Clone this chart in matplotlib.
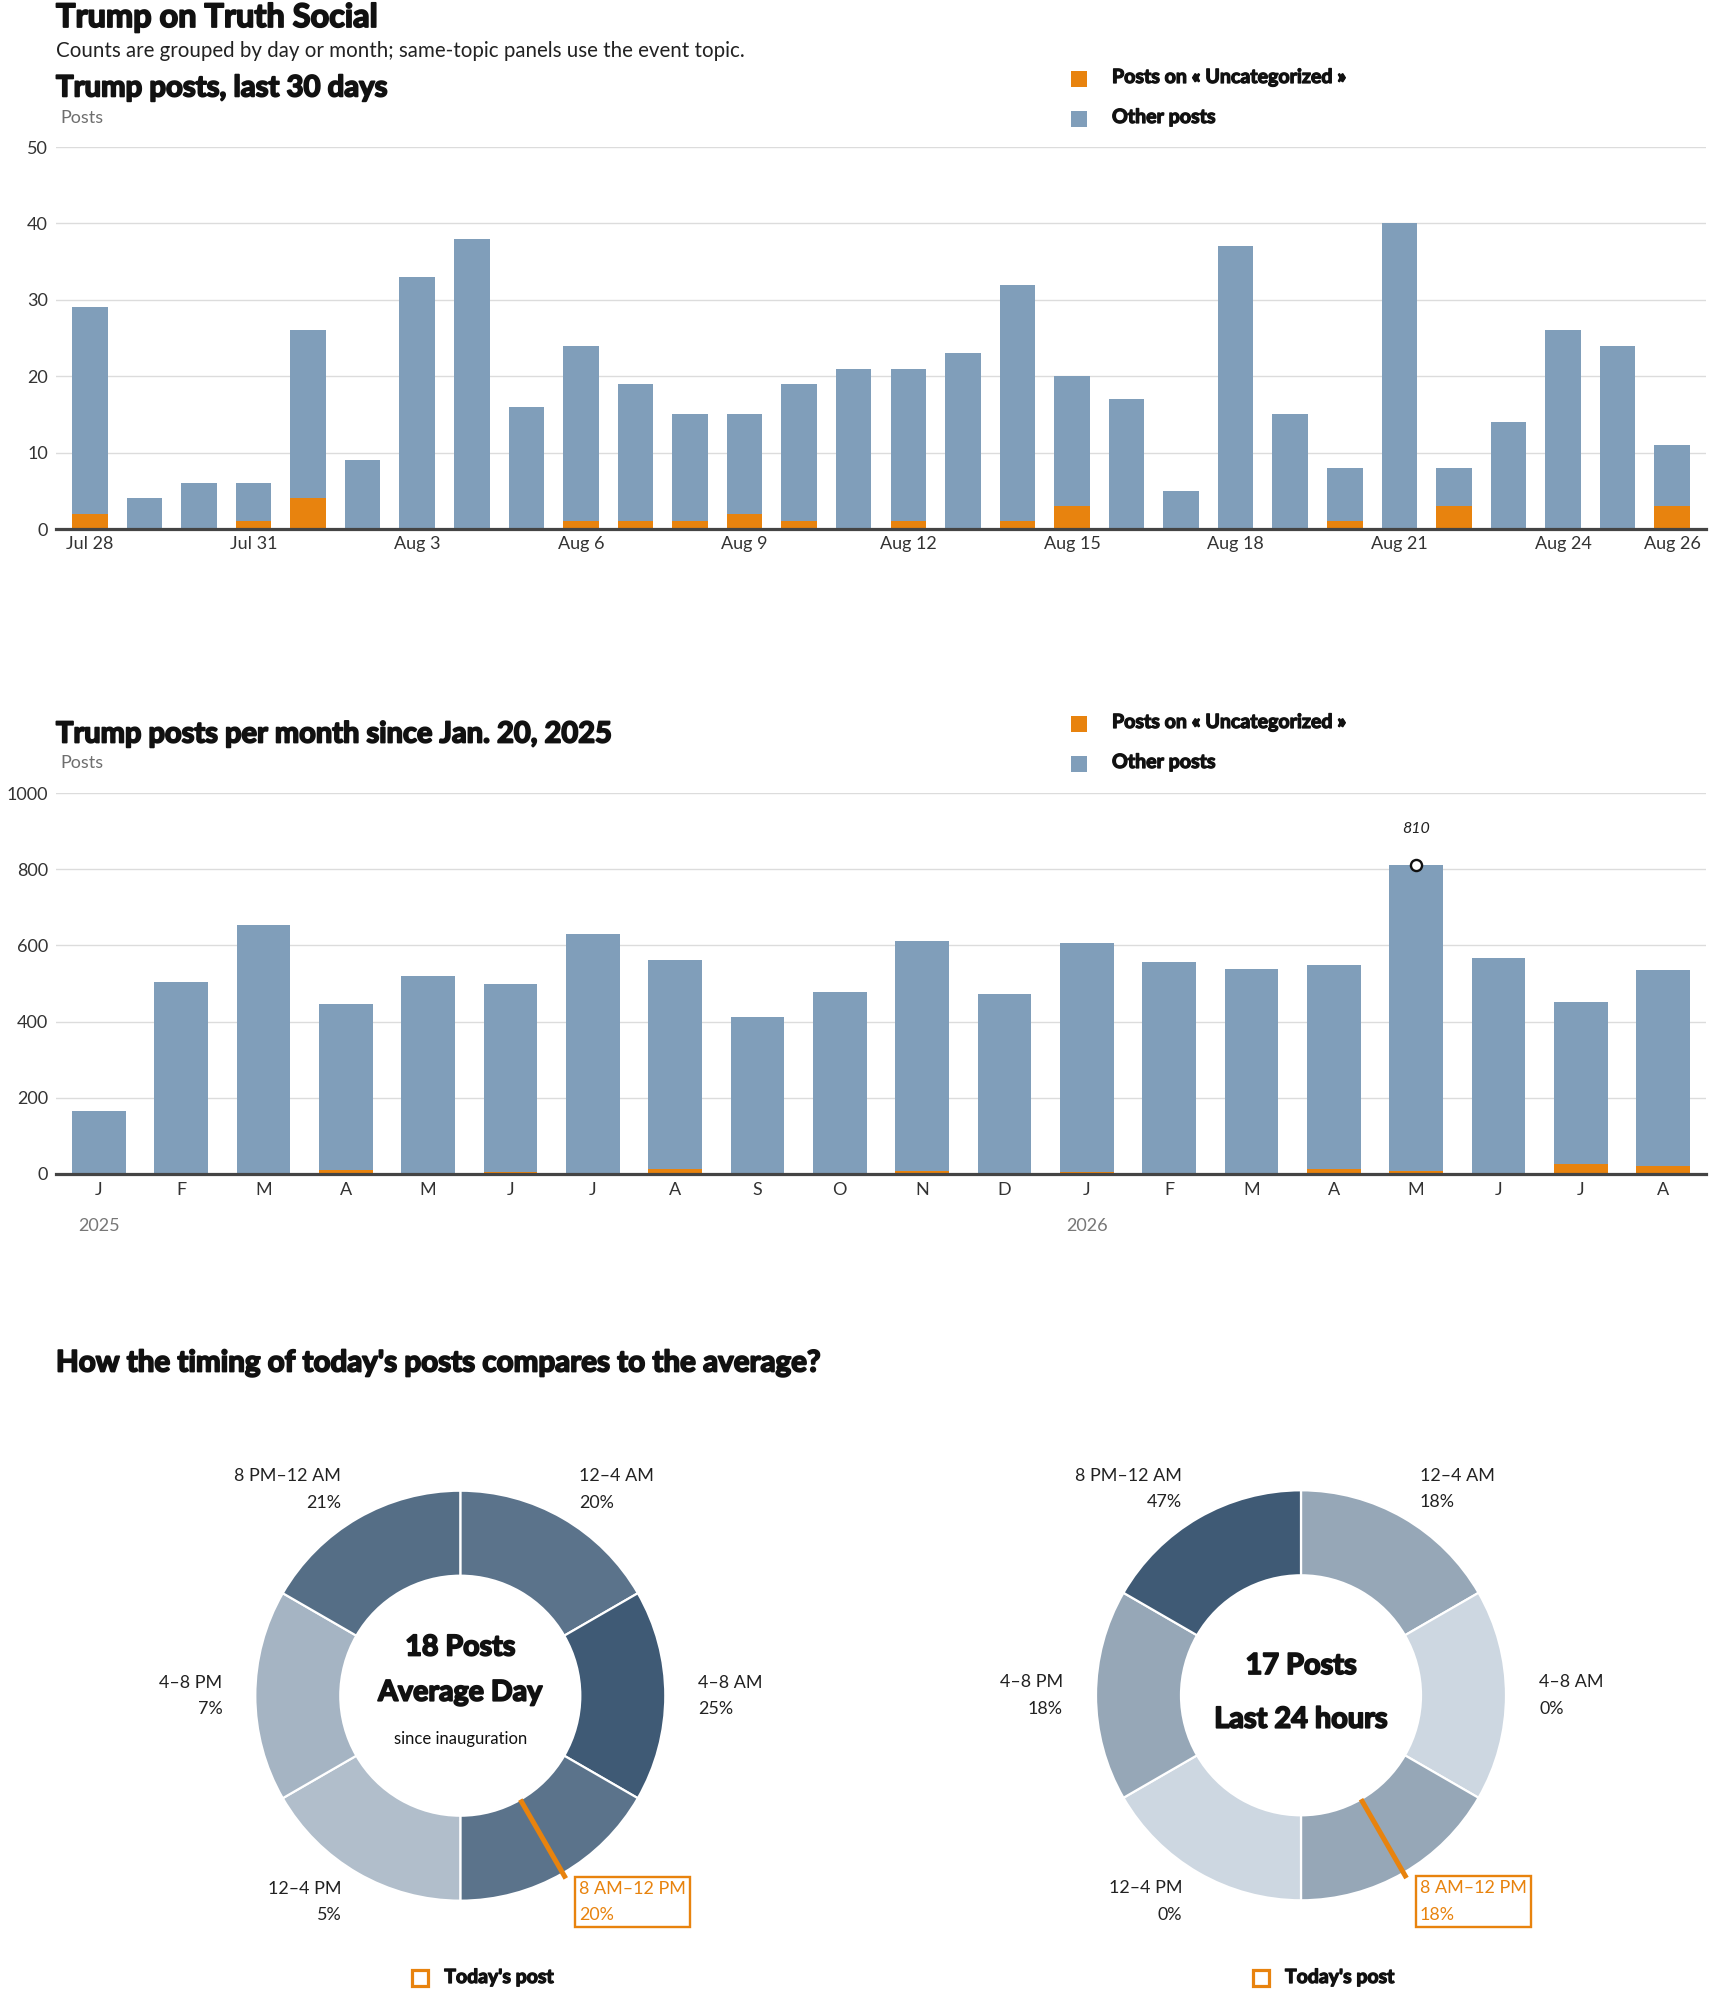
import matplotlib
matplotlib.use("Agg")
import matplotlib.pyplot as plt
from matplotlib import font_manager as fm
from matplotlib import patheffects as pe
from matplotlib.patches import Rectangle
from matplotlib.colors import LinearSegmentedColormap
import numpy as np

# ---------------- data ----------------
day_labels = ["Jul 28", "Jul 29", "Jul 30", "Jul 31", "Aug 1", "Aug 2", "Aug 3", "Aug 4",
              "Aug 5", "Aug 6", "Aug 7", "Aug 8", "Aug 9", "Aug 10", "Aug 11", "Aug 12",
              "Aug 13", "Aug 14", "Aug 15", "Aug 16", "Aug 17", "Aug 18", "Aug 19", "Aug 20",
              "Aug 21", "Aug 22", "Aug 23", "Aug 24", "Aug 25", "Aug 26"]
day_total = [29, 4, 6, 6, 26, 9, 33, 38, 16, 24, 19, 15, 15, 19, 21,
             21, 23, 32, 20, 17, 5, 37, 15, 8, 40, 8, 14, 26, 24, 11]
day_topic = [2, 0, 0, 1, 4, 0, 0, 0, 0, 1, 1, 1, 2, 1, 0,
             1, 0, 1, 3, 0, 0, 0, 0, 1, 0, 3, 0, 0, 0, 3]
day_ticks = ["Jul 28", "Jul 31", "Aug 3", "Aug 6", "Aug 9", "Aug 12",
             "Aug 15", "Aug 18", "Aug 21", "Aug 24", "Aug 26"]
day_yticks = [0, 10, 20, 30, 40, 50]

month_labels = ["J", "F", "M", "A", "M", "J", "J", "A", "S", "O",
                "N", "D", "J", "F", "M", "A", "M", "J", "J", "A"]
month_total = [165, 504, 654, 447, 520, 499, 630, 562, 412, 478,
               612, 473, 607, 556, 538, 549, 810, 567, 451, 536]
month_topic = [0, 3, 3, 10, 1, 4, 3, 13, 3, 0,
               7, 1, 5, 1, 1, 13, 7, 1, 26, 20]
year_idx = [0, 12]
year_labels = ["2025", "2026"]
month_yticks = [0, 200, 400, 600, 800, 1000]

time_bins = ["12–4 AM", "4–8 AM", "8 AM–12 PM", "12–4 PM", "4–8 PM", "8 PM–12 AM"]
bin_hours = [4, 4, 4, 4, 4, 4]
avg_pct = [20, 25, 20, 5, 7, 21]
last24_pct = [18, 0, 18, 0, 18, 47]
avg_posts = 18
last24_posts = 17
today_bin = "8 AM–12 PM"
today_post_hour = 10.0

topic_name = "Uncategorized"

# ---------------- style ----------------
ORANGE = "#E8830E"
BLUE = "#809EBA"
GRID = "#DCDCDC"
BASE = "#444444"
TXT = "#222222"
GRAY = "#6E6E6E"
INK = "#111111"

names = {f.name for f in fm.fontManager.ttflist}


def pick(*cands):
    for n in cands:
        if n in names:
            return n
    return "DejaVu Sans"


FONT = pick("Lato", "Roboto", "Open Sans", "Noto Sans", "Liberation Sans")
plt.rcParams["font.family"] = [FONT, "DejaVu Sans"]

# extra weight for the heavy display face
HEAVY_FX = [pe.withStroke(linewidth=1.3, foreground=INK)]
DEMI_FX = [pe.withStroke(linewidth=0.9, foreground=INK)]

W, H = 1710, 1993
fig = plt.figure(figsize=(W / 100, H / 100), dpi=100)
fig.patch.set_facecolor("white")


def ax_px(left, top, width, height):
    return fig.add_axes([left / W, 1 - (top + height) / H, width / W, height / H])


def style_bar_axes(ax):
    for s in ["left", "right", "top"]:
        ax.spines[s].set_visible(False)
    ax.spines["bottom"].set_color(BASE)
    ax.spines["bottom"].set_linewidth(2.3)
    ax.grid(axis="y", color=GRID, linewidth=1.0)
    ax.set_axisbelow(True)
    ax.tick_params(axis="both", length=0, labelsize=13, colors="#333333")
    ax.tick_params(axis="y", pad=5.8)


# ---------------- daily chart ----------------
ax1 = ax_px(56, 147, 1650, 382)
x1 = np.arange(len(day_total))
other1 = np.array(day_total) - np.array(day_topic)
ax1.bar(x1, day_topic, width=0.65, color=ORANGE, zorder=2)
ax1.bar(x1, other1, bottom=day_topic, width=0.65, color=BLUE, zorder=2)
ax1.set_xlim(-0.62, len(x1) - 1 + 0.62)
ax1.set_ylim(0, 50)
ax1.set_yticks(day_yticks)
ax1.set_xticks([day_labels.index(t) for t in day_ticks])
ax1.set_xticklabels(day_ticks)
style_bar_axes(ax1)
ax1.tick_params(axis="x", pad=5)

# ---------------- monthly chart ----------------
ax2 = ax_px(56, 793, 1650, 381)
x2 = np.arange(len(month_total))
other2 = np.array(month_total) - np.array(month_topic)
ax2.bar(x2, month_topic, width=0.65, color=ORANGE, zorder=2)
ax2.bar(x2, other2, bottom=month_topic, width=0.65, color=BLUE, zorder=2)
ax2.set_xlim(-0.52, len(x2) - 1 + 0.52)
ax2.set_ylim(0, 1000)
ax2.set_yticks(month_yticks)
ax2.set_xticks(x2)
ax2.set_xticklabels(month_labels)
style_bar_axes(ax2)
ax2.tick_params(axis="x", pad=5.5)
for i, lab in zip(year_idx, year_labels):
    ax2.text(i, -0.137, lab, transform=ax2.get_xaxis_transform(), ha="center",
             va="center", fontsize=13, color="#777777")
imax = int(np.argmax(month_total))
ax2.plot(imax, month_total[imax], "o", mfc="white", mec=INK, ms=8, mew=1.7, zorder=5)
ax2.annotate(str(month_total[imax]), xy=(imax, month_total[imax]), xytext=(0, 26),
             textcoords="offset points", ha="center", va="center", fontsize=11.5,
             fontstyle="italic", color=TXT)

# ---------------- donuts ----------------
cmap = LinearSegmentedColormap.from_list("slate", ["#CDD7E1", "#3F5A75"])
R = 205.0
HALF = 280.0


def donut(cx, cy, pcts, center_lines):
    ax = ax_px(cx - HALF, cy - HALF, 2 * HALF, 2 * HALF)
    mx = max(pcts)
    colors = [cmap(p / mx) for p in pcts]
    ax.pie(bin_hours, colors=colors, startangle=90, counterclock=False, radius=1.0,
           wedgeprops=dict(width=1 - 120 / R, edgecolor="white", linewidth=1.6))
    L = HALF / R
    ax.set_xlim(-L, L)
    ax.set_ylim(-L, L)
    ax.set_aspect("equal")
    ax.axis("off")
    total = float(sum(bin_hours))
    cum = np.cumsum(bin_hours)
    for lab, p, c, h in zip(time_bins, pcts, cum, bin_hours):
        mid = np.deg2rad((c - h / 2) / total * 360)
        r = 238 / R
        tx, ty = r * np.sin(mid), r * np.cos(mid)
        ha = "left" if tx > 0.01 else "right"
        hl = lab == today_bin
        kw = {}
        if hl:
            kw["bbox"] = dict(boxstyle="square,pad=0.22", fc="white", ec=ORANGE, lw=1.7)
        ax.text(tx, ty, f"{lab}\n{p}%", ha=ha, va="center", fontsize=12.9,
                linespacing=1.8, color=ORANGE if hl else TXT, zorder=6, clip_on=False, **kw)
    ang = np.deg2rad(today_post_hour / 24 * 360)
    r0, r1 = 120 / R, 211 / R
    ax.plot([r0 * np.sin(ang), r1 * np.sin(ang)], [r0 * np.cos(ang), r1 * np.cos(ang)],
            color=ORANGE, lw=3.6, solid_capstyle="butt", zorder=5, clip_on=False)
    for txt, yoff, fs, heavy in center_lines:
        if heavy:
            ax.text(0, yoff / R, txt, ha="center", va="baseline", fontsize=fs,
                    fontweight="bold", color=INK, path_effects=HEAVY_FX)
        else:
            ax.text(0, yoff / R, txt, ha="center", va="baseline", fontsize=fs, color=INK)
    return ax


donut(460.3, 1695.7, avg_pct,
      [(f"{avg_posts} Posts", 40.2, 20.6, True),
       ("Average Day", -5.0, 20.6, True),
       ("since inauguration", -48.6, 12.0, False)])
donut(1301.0, 1695.3, last24_pct,
      [(f"{last24_posts} Posts", 21.3, 20.8, True),
       ("Last 24 hours", -32.4, 20.8, True)])

# ---------------- overlay: headings and legends ----------------
ov = fig.add_axes([0, 0, 1, 1])
ov.set_xlim(0, W)
ov.set_ylim(H, 0)
ov.axis("off")
ov.patch.set_alpha(0)


def heading(x, y, s, fs):
    ov.text(x, y, s, fontsize=fs, fontweight="bold", color=INK, va="baseline",
            path_effects=HEAVY_FX)


heading(56, 27, "Trump on Truth Social", 23.4)
ov.text(56, 57, "Counts are grouped by day or month; same-topic panels use the event topic.",
        fontsize=14.8, color=TXT, va="baseline")
heading(56, 96.4, "Trump posts, last 30 days", 21.1)
ov.text(60, 122.5, "Posts", fontsize=12.9, color=GRAY, va="baseline")
heading(56, 742.5, "Trump posts per month since Jan. 20, 2025", 20.9)
ov.text(60, 768, "Posts", fontsize=12.9, color=GRAY, va="baseline")
heading(56, 1371.5, "How the timing of today's posts compares to the average?", 21.3)


def legend_block(y_top):
    entries = [(ORANGE, f"Posts on « {topic_name} »"), (BLUE, "Other posts")]
    for k, (col, lab) in enumerate(entries):
        yy = y_top + k * 40
        ov.add_patch(Rectangle((1071, yy), 16, 16, color=col, lw=0))
        ov.text(1112, yy + 12, lab, fontsize=14.1, fontweight="bold",
                color=INK, va="baseline", path_effects=DEMI_FX)


legend_block(71)
legend_block(716)

for cx in (460.3, 1301.0):
    ov.add_patch(Rectangle((cx - 48.5, 1970), 16, 16, fill=False, ec=ORANGE, lw=2.3))
    ov.text(cx - 16, 1983, "Today's post", fontsize=14.0, fontweight="bold",
            color=INK, va="baseline", path_effects=DEMI_FX)

fig.savefig("out.png", dpi=100, facecolor="white")
